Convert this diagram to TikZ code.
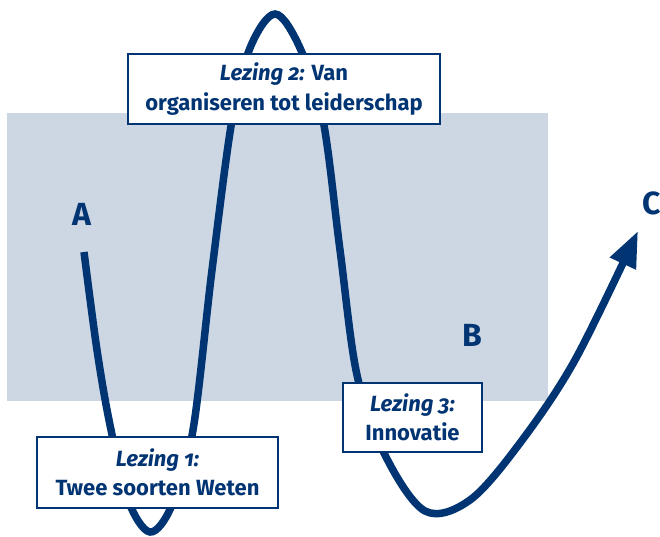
\documentclass[tikz,border=0pt]{standalone}
\usepackage{fontspec}
\setmainfont{Fira Sans}[Numbers=OldStyle]
\usetikzlibrary{arrows.meta}
\definecolor{navy}{HTML}{003473}
\definecolor{greyblue}{HTML}{CDD7E3}
\tikzset{
  curve/.style={draw=navy, line width=7.5pt, line cap=butt},
  lecture/.style={draw=navy, line width=1.8pt, fill=white, inner sep=0pt, align=center,
    text=navy, font=\fontsize{22}{29.5}\selectfont\bfseries},
  letter/.style={text=navy, font=\fontsize{32}{32}\selectfont\bfseries, inner sep=0pt}
}
\begin{document}
\begin{tikzpicture}[x=1pt,y=-1pt]
\useasboundingbox (0,0) rectangle (660,537);
\fill[greyblue] (7,113) rectangle (548,401);
\draw[curve, -{Triangle[length=36pt, width=27pt]}]
  plot[smooth, tension=0.55] coordinates {(84,252) (97,350) (110,425) (128,500) (150,532) (172,505) (193,430) (212,270) (232,120) (250,48) (275,14) (300,48) (323,120) (340,250) (357,375) (385,455) (425,511) (470,500) (520,443) (575,360) (638,231)};
\node[lecture, minimum width=312pt, minimum height=70pt] (l2) at (284,89)
  {\textit{Lezing 2:} Van\\organiseren tot leiderschap};
\node[lecture, minimum width=241pt, minimum height=71pt] (l1) at (157.5,472.5)
  {\textit{Lezing 1:}\\Twee soorten Weten};
\node[lecture, minimum width=139pt, minimum height=69pt] (l3) at (412.5,417.5)
  {\textit{Lezing 3:}\\Innovatie};
\node[letter] (A) at (82,214) {A};
\node[letter] (B) at (472,335) {B};
\node[letter, anchor=west] (C) at (642,203) {C};
\end{tikzpicture}
\end{document}
